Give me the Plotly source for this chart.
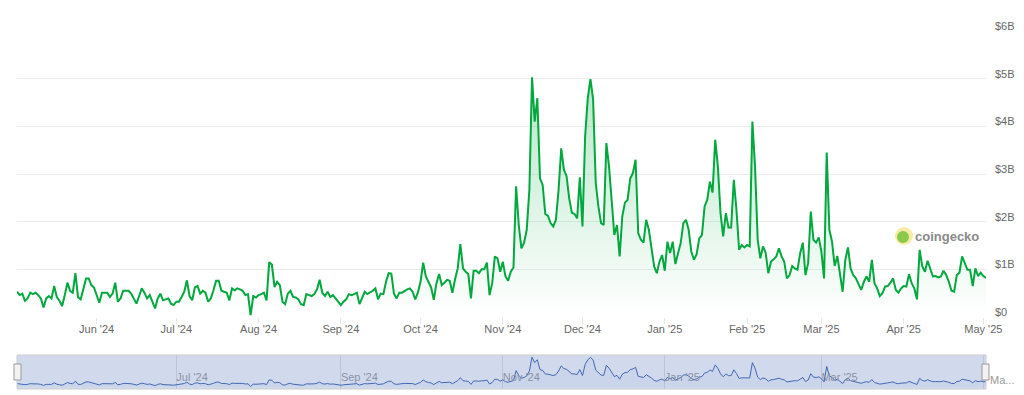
import pandas as pd
import plotly.graph_objects as go

# ---- data (daily trading volume, USD billions) ----
start_date = "2024-05-02"
vol_may_jul = [0.53,0.46,0.49,0.34,0.39,0.51,0.48,0.51,0.46,0.39,
               0.20,0.39,0.44,0.39,0.65,0.42,0.34,0.23,0.46,0.72,
               0.55,0.51,0.92,0.41,0.37,0.58,0.81,0.81,0.67,0.62,
               0.46,0.30,0.51,0.51,0.51,0.42,0.49,0.72,0.32,0.39,
               0.55,0.55,0.55,0.49,0.39,0.28,0.44,0.60,0.51,0.39,
               0.46,0.32,0.18,0.39,0.49,0.35,0.37,0.39,0.28,0.25,
               0.32,0.32,0.42,0.53,0.77,0.44,0.35,0.62,0.65,0.49,
               0.55,0.51,0.32,0.39,0.56]
vol_jul_sep = [0.76,0.76,0.55,0.53,0.51,0.35,0.60,0.56,0.60,0.58,
               0.55,0.46,0.48,0.04,0.44,0.41,0.46,0.48,0.51,0.35,
               1.15,1.10,0.63,0.74,0.67,0.32,0.27,0.49,0.55,0.42,
               0.41,0.37,0.27,0.25,0.48,0.46,0.44,0.48,0.58,0.78,
               0.51,0.44,0.53,0.42,0.46,0.39,0.32,0.25,0.32,0.37,
               0.48,0.46,0.48,0.51,0.27,0.42,0.53,0.48,0.51,0.55,
               0.60,0.37,0.49,0.48,0.74,0.92,0.91,0.49,0.39,0.51,
               0.51,0.55,0.58]
vol_sep_dec = [0.60,0.53,0.37,0.51,0.74,1.14,0.85,0.72,0.62,0.36,
               0.71,0.90,0.67,0.72,0.78,0.76,0.51,0.79,1.02,1.53,
               1.02,0.95,0.90,0.39,0.97,0.97,0.92,1.00,1.00,1.14,
               0.46,0.71,1.27,1.23,0.95,1.16,0.85,0.76,0.95,1.04,
               2.74,1.93,1.44,1.56,1.83,2.67,5.03,4.10,4.59,2.91,
               2.77,2.16,2.12,1.97,1.90,2.04,2.67,3.54,3.09,2.96,
               2.49,2.19,2.16,2.07,2.93,1.90,3.79,4.59,4.99,4.57,
               2.81,2.32]
vol_dec_jan = [1.97,1.93,3.65,3.16,2.46,1.72,1.93,1.27,2.11,2.40,
               2.46,2.91,3.02,3.30,1.76,1.62,1.56,2.04,1.83,1.48,
               1.06,0.92,1.16,1.30,0.97,1.58,1.34,1.58,1.11,1.34,
               1.55,1.97,2.04,1.83]
vol_jan_feb = [1.37,1.20,1.32,1.65,1.72,2.32,2.46,2.84,2.61,3.72,
               3.16,2.18,1.69,2.18,1.88,1.88,2.88,2.25,1.41,1.51,
               1.46,1.51,1.48,4.10,3.16,1.62,1.23,1.48,1.35,0.92,
               1.16,1.21,1.27,1.44,1.27,1.16,0.81]
vol_feb_may = [0.88,1.07,1.02,0.99,1.34,1.56,0.88,1.13,2.21,1.62,
               1.56,1.67,1.37,0.81,3.45,1.83,1.58,1.07,1.28,0.92,
               0.53,1.20,1.46,1.02,0.88,0.81,0.67,0.57,0.74,0.85,
               0.74,1.20,0.71,0.60,0.44,0.50,0.64,0.65,0.72,0.81,
               0.57,0.51,0.60,0.65,0.64,0.90,0.71,0.60,0.37,1.41,
               1.06,0.95,1.18,0.99,0.85,0.86,0.83,0.85,0.97,0.88,
               0.74,0.55,0.53,0.88,0.93,1.27,1.14,0.99,0.99,0.65,
               1.02,0.86,0.93,0.86,0.82]

volume_bn = vol_may_jul + vol_jul_sep + vol_sep_dec + vol_dec_jan + vol_jan_feb + vol_feb_may
dates = pd.date_range(start_date, periods=len(volume_bn), freq="D")

y_tickvals = [0, 1, 2, 3, 4, 5, 6]
y_ticktext = ["$0", "$1B", "$2B", "$3B", "$4B", "$5B", "$6B"]
nav_tickvals = ["2024-07-01", "2024-09-01", "2024-11-01", "2025-01-01", "2025-03-01", "2025-05-01"]
nav_ticktext = ["Jul '24", "Sep '24", "Nov '24", "Jan '25", "Mar '25", ""]
nav_last_label = "Ma..."

GREEN = "#00a83e"
FONT = "Liberation Sans, Arial, sans-serif"

W, H = 1024, 395
ML, MR, MT, MB = 17, 17, 31, 6
PW, PH = W - ML - MR, H - MT - MB


def px(x):
    return (x - ML) / PW


def py(y):
    return (H - MB - y) / PH


fig = go.Figure()

# main series
fig.add_trace(go.Scatter(
    x=dates, y=volume_bn, mode="lines",
    line=dict(color=GREEN, width=2),
    fill="tozeroy",
    fillgradient=dict(type="vertical",
                      colorscale=[[0, "rgba(0,168,62,0.0)"], [1, "rgba(0,168,62,0.28)"]]),
    xaxis="x", yaxis="y", hoverinfo="skip", showlegend=False,
))

# navigator series
fig.add_trace(go.Scatter(
    x=dates, y=volume_bn, mode="lines",
    line=dict(color="#335cad", width=1),
    fill="tozeroy", fillcolor="rgba(51,92,173,0.05)",
    xaxis="x2", yaxis="y2", hoverinfo="skip", showlegend=False,
))

x_range = [dates[0], dates[-1]]
nav_y0, nav_y1 = py(389), py(355)
plot_right = px(986)

fig.update_layout(
    width=W, height=H,
    margin=dict(l=ML, r=MR, t=MT, b=MB, autoexpand=False),
    paper_bgcolor="white", plot_bgcolor="white",
    font=dict(family=FONT, size=11, color="#666666"),
    xaxis=dict(
        domain=[0, plot_right], range=x_range, type="date",
        tickformat="%b '%y", dtick="M1", tick0="2024-06-01",
        ticks="outside", ticklen=6, tickcolor="#e6e6e6",
        ticklabelstandoff=-4,
        showgrid=False, showline=False, zeroline=False,
        tickfont=dict(size=11, color="#666666"),
        anchor="y", automargin=False,
    ),
    yaxis=dict(
        domain=[py(317), 1], range=[0, 6], side="right",
        tickvals=y_tickvals, ticktext=y_ticktext,
        gridcolor="#ececec", gridwidth=1, zeroline=False, showline=False,
        ticks="", ticklabelstandoff=8, ticklabelshift=-5,
        tickfont=dict(size=11, color="#666666"),
        anchor="x", automargin=False,
    ),
    xaxis2=dict(
        domain=[0, plot_right], range=x_range, type="date",
        tickvals=nav_tickvals, ticktext=nav_ticktext,
        ticklabelposition="inside right", ticks="",
        showgrid=True, gridcolor="#e0e0e0", zeroline=False, showline=False,
        tickfont=dict(size=11, color="#999999"),
        anchor="y2", automargin=False,
    ),
    yaxis2=dict(
        domain=[nav_y0, nav_y1], range=[-0.4, 5.4],
        showgrid=False, showticklabels=False, zeroline=False, ticks="",
        anchor="x2", automargin=False,
    ),
    shapes=[
        # navigator mask
        dict(type="rect", xref="paper", yref="paper", x0=0, x1=plot_right, y0=nav_y0, y1=nav_y1,
             fillcolor="rgba(102,133,194,0.3)", line=dict(color="#cccccc", width=1), layer="above"),
        # navigator handles
        dict(type="rect", xref="paper", yref="paper", x0=px(14), x1=px(21), y0=py(380), y1=py(364),
             fillcolor="#f2f2f2", line=dict(color="#999999", width=1), layer="above"),
        dict(type="rect", xref="paper", yref="paper", x0=px(982), x1=px(989), y0=py(380), y1=py(364),
             fillcolor="#f2f2f2", line=dict(color="#999999", width=1), layer="above"),
        # watermark logo
        dict(type="circle", xref="paper", yref="paper", x0=px(895), x1=px(913), y0=py(245), y1=py(227),
             fillcolor="#f6eca6", line=dict(width=0), layer="above"),
        dict(type="circle", xref="paper", yref="paper", x0=px(897), x1=px(909), y0=py(243), y1=py(231),
             fillcolor="#8cc84b", line=dict(width=0), layer="above"),
    ],
    annotations=[
        dict(text="<b>coingecko</b>", xref="paper", yref="paper", x=px(947), y=py(236),
             showarrow=False, font=dict(family=FONT, size=13, color="#8a8a8a"),
             xanchor="center", yanchor="middle"),
        dict(text=nav_last_label, xref="x2", yref="paper", x=nav_tickvals[-1], y=py(380),
             xanchor="left", yanchor="middle", xshift=5, showarrow=False,
             font=dict(family=FONT, size=11, color="#999999")),
    ],
)

fig.write_html("out.html", config={"displayModeBar": False},
               post_script="document.body.style.margin='0';")
